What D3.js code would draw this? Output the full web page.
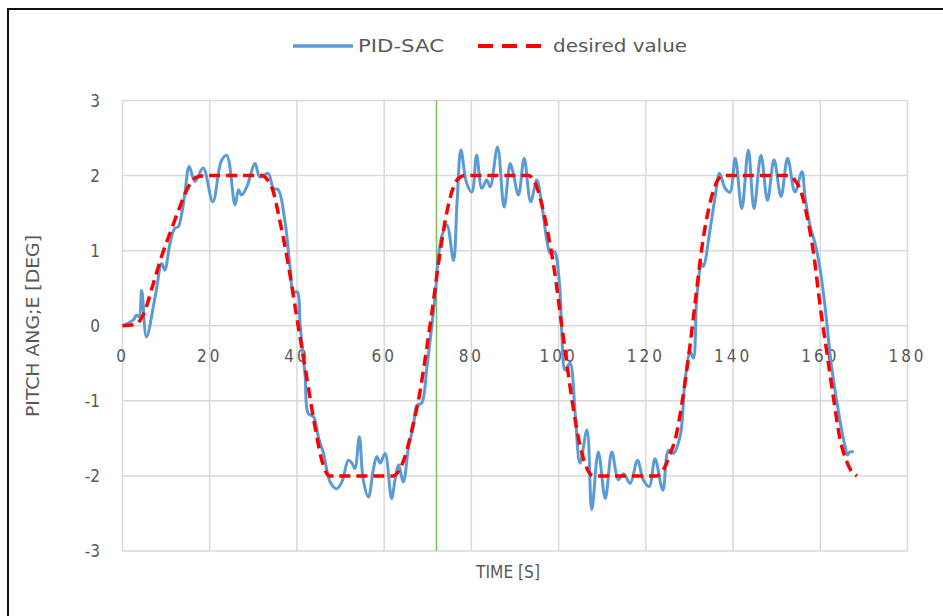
<!DOCTYPE html>
<html lang="en">
<head>
    <meta charset="UTF-8">
    <title>Pitch angle</title>
    <script src="https://d3js.org/d3.v7.min.js"></script>
    <style>
        body { margin: 0; background: #fff; }
        text { font-family: "Liberation Sans Narrow", "DejaVu Sans Condensed", "Open Sans", sans-serif; fill: #595959; }
    </style>
</head>
<body>

<svg id="main" width="943" height="616"></svg>
<script>

    // PID-SAC response
    const pidTime = [0, 2.5, 3.2, 3.8, 4.4, 5.5, 7.5, 9.0, 9.7, 10.9, 12.0, 12.8, 13.6, 14.3, 15.3, 16.6, 18.5, 20.7, 22.7, 23.9,
        25.8, 26.6, 27.3, 28.5, 30.4, 31.5, 33.4, 34.6, 35.7, 37.3, 38.4, 39.2, 40.1, 40.7, 41.5, 41.9, 42.6, 43.8, 44.9, 46.1,
        47.6, 49.1, 50.3, 51.8, 52.6, 53.3, 54.3, 55.2, 56.4, 57.5, 58.3, 59.1, 60.2, 61.7, 62.5, 63.3, 64.4, 65.6, 66.7, 67.5,
        68.6, 69.8, 70.9, 71.7, 72.4, 73.2, 74.4, 75.9, 76.7, 77.6, 78.9, 80.1, 81.2, 82.4, 83.5, 84.3, 86.0, 87.5, 88.9, 89.6,
        90.8, 92.1, 93.6, 95.0, 96.1, 97.3, 98.1, 99.0, 100.2, 100.7, 101.5, 102.6, 103.8, 104.9, 106.5, 107.6, 109.1, 110.7, 112.2, 113.7,
        114.9, 116.4, 118.1, 119.4, 120.8, 122.1, 123.9, 125.2, 126.3, 127.9, 129.0, 130.2, 130.9, 131.7, 132.8, 133.2, 134.7, 135.9, 136.9, 138.2,
        139.3, 140.5, 142.0, 143.5, 144.8, 146.4, 147.9, 149.4, 151.0, 152.5, 154.2, 155.8, 156.5, 157.7, 158.8, 160.0, 161.1, 162.6, 164.5, 165.7,
        166.2, 166.8, 167.7];
    const pidValue = [0, 0.08, 0.14, 0.12, 0.47, -0.15, 0.39, 0.83, 0.74, 1.10, 1.30, 1.32, 1.50, 1.76, 2.12, 1.92, 2.10, 1.65, 2.20, 2.27,
        1.61, 1.81, 1.74, 1.85, 2.16, 1.98, 2.03, 1.83, 1.81, 1.37, 0.79, 0.45, 0.45, 0.03, -0.45, -0.68, -1.17, -1.21, -1.48, -1.70,
        -2.08, -2.17, -2.08, -1.79, -1.83, -1.90, -1.48, -2.05, -2.28, -1.92, -1.74, -1.83, -1.70, -2.30, -2.05, -1.85, -2.08, -1.61, -1.34, -1.06,
        -1.03, -0.55, -0.01, 0.40, 0.90, 1.19, 1.34, 0.87, 1.63, 2.34, 1.90, 1.78, 2.27, 1.83, 1.94, 1.85, 2.38, 1.58, 2.16, 2.03,
        1.74, 2.23, 1.65, 1.94, 1.63, 1.14, 0.96, 0.99, 0.56, -0.06, -0.59, -0.50, -1.17, -1.83, -1.39, -2.45, -1.68, -2.30, -1.68, -2.05,
        -1.97, -2.10, -1.79, -2.05, -2.14, -1.77, -2.19, -1.66, -1.70, -1.46, -0.72, -0.35, -0.43, 0.39, 0.83, 0.79, 1.27, 1.72, 2.03, 1.83,
        1.78, 2.23, 1.56, 2.34, 1.56, 2.27, 1.67, 2.21, 1.72, 2.23, 1.78, 2.05, 1.72, 1.32, 1.10, 0.74, 0.25, -0.55, -1.26, -1.61,
        -1.72, -1.68, -1.68];

    // desired value
    const desiredTime = [0, 3, 5, 7, 9, 11, 13, 15, 17, 19, 32, 33, 34.5, 36, 38, 40, 42, 44, 46, 47.5,
        62, 63.5, 65, 66.5, 68, 69.5, 71, 72.5, 74, 75.5, 77, 78.5, 93, 94.5, 96, 97.5, 99, 100.5, 102, 103.5,
        105, 106.5, 108, 122.5, 124, 125.5, 127, 128.5, 130, 131.5, 133, 134.5, 136, 137.7, 152.5, 154, 155.5, 157, 158.5, 160,
        161.5, 163, 164.5, 166, 167.3, 168.4];
    const desiredValue = [0, 0.02, 0.18, 0.55, 0.93, 1.25, 1.56, 1.84, 1.98, 2, 2, 1.96, 1.8, 1.42, 0.82, 0.1, -0.6, -1.3, -1.85, -2,
        -2, -1.92, -1.7, -1.35, -0.95, -0.4, 0.2, 0.85, 1.4, 1.78, 1.96, 2, 2, 1.92, 1.65, 1.25, 0.75, 0.1, -0.55, -1.15,
        -1.62, -1.9, -2, -2, -1.92, -1.72, -1.45, -0.95, -0.32, 0.4, 1.1, 1.58, 1.88, 2, 2, 1.95, 1.8, 1.45, 0.95, 0.25,
        -0.35, -0.95, -1.5, -1.8, -1.95, -2];

    const xTicks = [0, 20, 40, 60, 80, 100, 120, 140, 160, 180];
    const yTicks = [-3, -2, -1, 0, 1, 2, 3];
    const markerTime = 72;

    let svg = d3.select('svg#main');

    // outer chart border
    svg.append('rect')
        .attr('x', 8).attr('y', 9)
        .attr('width', 960).attr('height', 640)
        .attr('fill', 'none')
        .attr('stroke', '#111')
        .attr('stroke-width', 2);

    let xScale = d3.scaleLinear().domain([0, 180]).range([122.5, 907.5]);
    let yScale = d3.scaleLinear().domain([-3, 3]).range([551, 100.5]);

    // grid
    svg.append('g')
        .selectAll('line')
        .data(xTicks)
        .enter()
        .append('line')
        .attr('x1', d => xScale(d)).attr('x2', d => xScale(d))
        .attr('y1', yScale(3)).attr('y2', yScale(-3))
        .attr('stroke', '#d9d9d9').attr('stroke-width', 1.5);

    svg.append('g')
        .selectAll('line')
        .data(yTicks)
        .enter()
        .append('line')
        .attr('x1', xScale(0)).attr('x2', xScale(180))
        .attr('y1', d => yScale(d)).attr('y2', d => yScale(d))
        .attr('stroke', '#d9d9d9').attr('stroke-width', 1.5);

    // tick labels
    svg.append('g')
        .selectAll('text')
        .data(yTicks)
        .enter()
        .append('text')
        .attr('x', 100)
        .attr('y', d => yScale(d) + 6)
        .attr('text-anchor', 'end')
        .style('font-size', '17px')
        .text(d => d);

    svg.append('g')
        .selectAll('text')
        .data(xTicks)
        .enter()
        .append('text')
        .attr('x', d => xScale(d))
        .attr('y', yScale(0) + 36)
        .attr('text-anchor', 'middle')
        .style('font-size', '17px')
        .style('letter-spacing', '3px')
        .text(d => d);

    // marker line
    svg.append('line')
        .attr('x1', xScale(markerTime)).attr('x2', xScale(markerTime))
        .attr('y1', yScale(3)).attr('y2', yScale(-3))
        .attr('stroke', '#7cbf55').attr('stroke-width', 1.5);

    let pidData = pidTime.map((t, i) => [t, pidValue[i]]);
    let desiredData = desiredTime.map((t, i) => [t, desiredValue[i]]);

    let pidLine = d3.line()
        .x(d => xScale(d[0]))
        .y(d => yScale(d[1]))
        .curve(d3.curveCatmullRom.alpha(0.5));

    let desiredLine = d3.line()
        .x(d => xScale(d[0]))
        .y(d => yScale(d[1]))
        .curve(d3.curveMonotoneX);

    svg.append('path')
        .attr('d', pidLine(pidData))
        .attr('fill', 'none')
        .attr('stroke', '#5b9bd5')
        .attr('stroke-width', 3)
        .attr('stroke-linejoin', 'round');

    svg.append('path')
        .attr('d', desiredLine(desiredData))
        .attr('fill', 'none')
        .attr('stroke', '#ff0000')
        .attr('stroke-width', 3.5)
        .attr('stroke-dasharray', '11,6');

    // axis titles
    svg.append('text')
        .attr('x', 508).attr('y', 578)
        .attr('text-anchor', 'middle')
        .attr('textLength', 64).attr('lengthAdjust', 'spacingAndGlyphs')
        .style('font-size', '18px')
        .text('TIME [S]');

    svg.append('text')
        .attr('transform', 'translate(39,326) rotate(-90)')
        .attr('text-anchor', 'middle')
        .attr('textLength', 182).attr('lengthAdjust', 'spacingAndGlyphs')
        .style('font-size', '18px')
        .text('PITCH ANG;E [DEG]');

    // legend
    let legend = svg.append('g');
    legend.append('line')
        .attr('x1', 293).attr('x2', 353).attr('y1', 46).attr('y2', 46)
        .attr('stroke', '#5b9bd5').attr('stroke-width', 3.5);
    legend.append('text')
        .attr('x', 358).attr('y', 52)
        .attr('textLength', 86).attr('lengthAdjust', 'spacingAndGlyphs')
        .style('font-size', '18px')
        .text('PID-SAC');
    legend.append('line')
        .attr('x1', 478).attr('x2', 549).attr('y1', 46).attr('y2', 46)
        .attr('stroke', '#ff0000').attr('stroke-width', 4)
        .attr('stroke-dasharray', '15,9');
    legend.append('text')
        .attr('x', 553).attr('y', 52)
        .attr('textLength', 134).attr('lengthAdjust', 'spacingAndGlyphs')
        .style('font-size', '18px')
        .text('desired value');

</script>
</body>
</html>
